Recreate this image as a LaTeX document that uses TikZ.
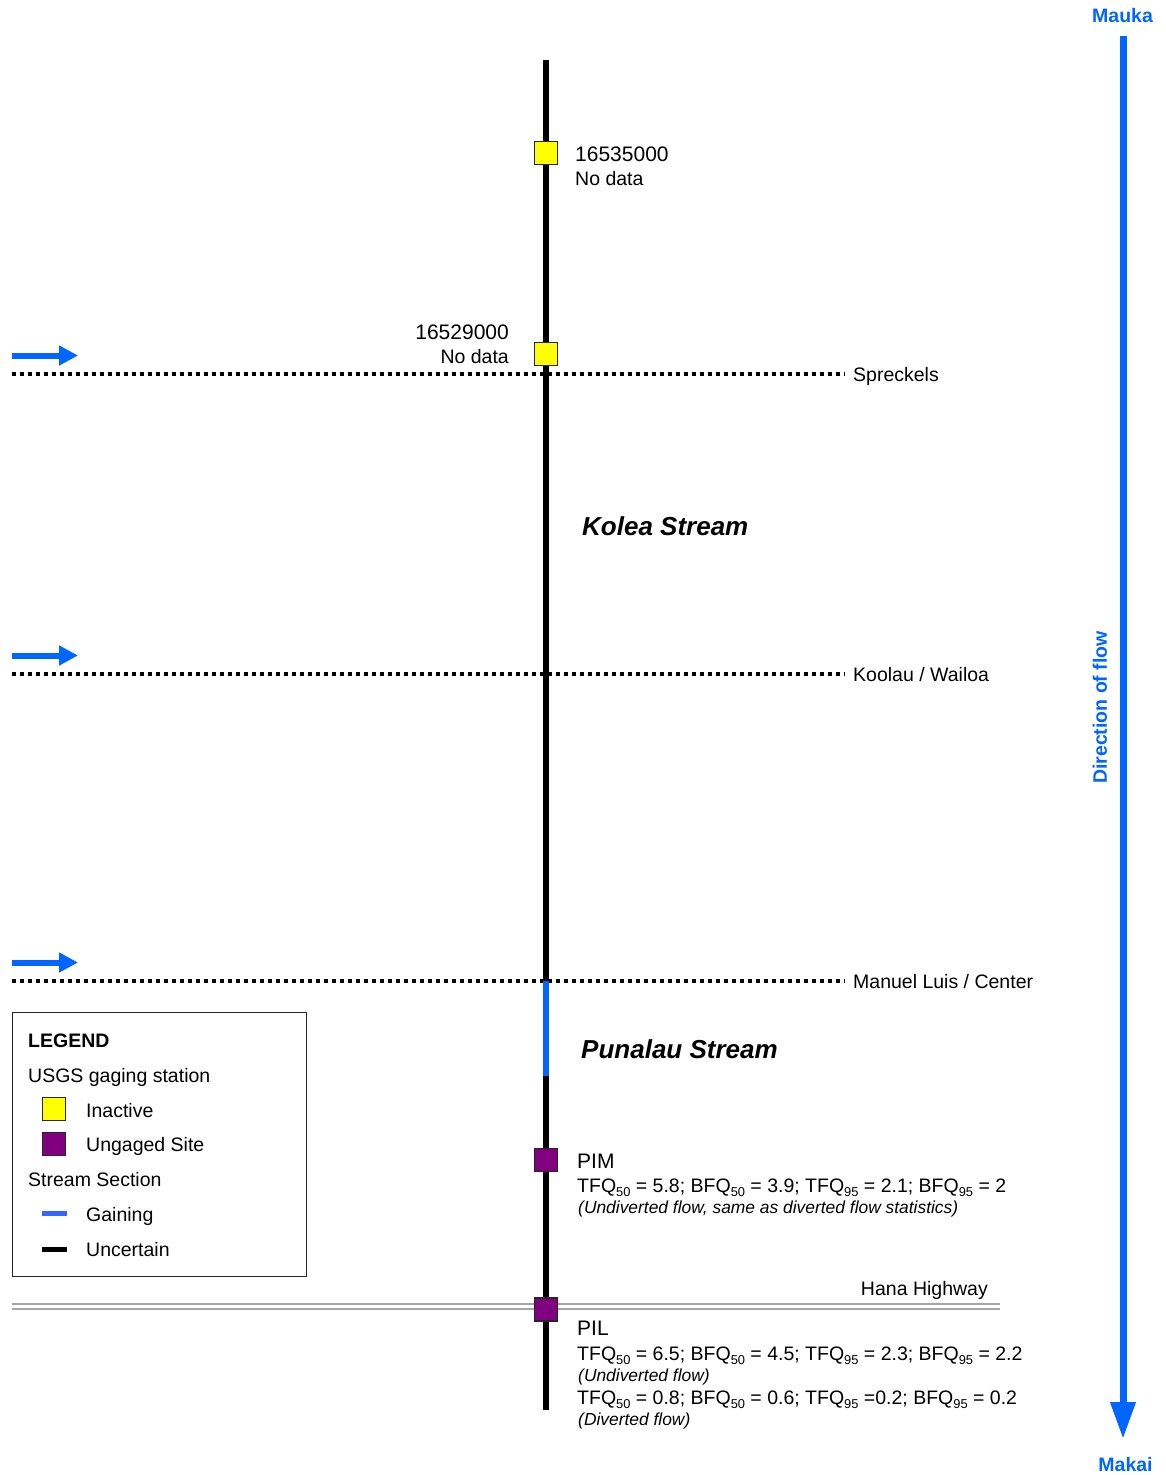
\documentclass[tikz,border=0pt]{standalone}
\usepackage{fontspec}
\usepackage{graphicx}
\setmainfont{Liberation Sans}
\usetikzlibrary{arrows.meta}
\definecolor{flowblue}{RGB}{0,102,255}
\definecolor{gainblue}{RGB}{51,102,255}
\definecolor{inactivecol}{RGB}{255,255,0}
\definecolor{ungagedcol}{RGB}{128,0,128}
\definecolor{hwgray}{RGB}{165,165,165}
\newcommand\lowsub[1]{\raisebox{-0.22em}{\scalebox{0.66}{#1}}}
\begin{document}
\begin{tikzpicture}[x=1pt,y=-1pt,
  lbl/.style={inner sep=0pt, anchor=base west, font=\fontsize{19.5}{23}\selectfont},
  lblr/.style={lbl, anchor=base east},
  idlbl/.style={inner sep=0pt, anchor=base west, font=\fontsize{21}{25}\selectfont},
  idlblr/.style={idlbl, anchor=base east},
  notelbl/.style={inner sep=0pt, anchor=base west, font=\fontsize{17.4}{20}\selectfont\itshape},
  streamname/.style={inner sep=0pt, anchor=base west, font=\fontsize{26}{30}\selectfont\bfseries\itshape},
  dirlbl/.style={inner sep=0pt, text=flowblue, font=\fontsize{19.5}{23}\selectfont\bfseries},
  stationbox/.style={draw=black!85, line width=1.2pt, minimum size=23pt, inner sep=0pt},
  inactive/.style={stationbox, fill=inactivecol},
  ungaged/.style={stationbox, fill=ungagedcol},
  stream/.style={line width=5.5pt, black},
  gainseg/.style={line width=5.5pt, flowblue},
  ditch/.style={line width=4pt, dash pattern=on 4pt off 4pt},
  inflow/.style={line width=6pt, flowblue, -{Triangle[length=19pt,width=19pt]}},
  dirarrow/.style={line width=7pt, flowblue, -{Triangle[length=37pt,width=24pt]}}
]
\useasboundingbox (0,0) rectangle (1165,1475);

% highway
\coordinate (hwL) at (12,1306.5);
\coordinate (hwR) at (1000,1306.5);
\draw[hwgray, line width=7pt] (hwL) -- (hwR);
\draw[white, line width=3pt] (hwL) -- (hwR);
\node[lblr] (hw) at (988,1295) {Hana Highway};

% ditches
\coordinate (d1L) at (12,374);  \coordinate (d1R) at (845,374);
\coordinate (d2L) at (12,674);  \coordinate (d2R) at (845,674);
\coordinate (d3L) at (12,981);  \coordinate (d3R) at (845,981);
\draw[ditch] (d1L) -- (d1R);
\draw[ditch] (d2L) -- (d2R);
\draw[ditch] (d3L) -- (d3R);
\node[lbl] (spr) at (853,381) {Spreckels};
\node[lbl] (kw) at (853,681) {Koolau / Wailoa};
\node[lbl] (mlc) at (853,988) {Manuel Luis / Center};

% inflow arrows
\coordinate (a1s) at (12,355.5); \coordinate (a1e) at (78,355.5);
\coordinate (a2s) at (12,655.5); \coordinate (a2e) at (78,655.5);
\coordinate (a3s) at (12,962.5); \coordinate (a3e) at (78,962.5);
\draw[inflow] (a1s) -- (a1e);
\draw[inflow] (a2s) -- (a2e);
\draw[inflow] (a3s) -- (a3e);

% stream
\coordinate (stop) at (546,60);
\coordinate (sbot) at (546,1410);
\coordinate (g1) at (546,981);
\coordinate (g2) at (546,1076);
\draw[stream] (stop) -- (sbot);
\draw[gainseg] (g1) -- (g2);

% stations
\node[inactive] (st1) at (546,153) {};
\node[inactive] (st2) at (546,354) {};
\node[ungaged] (pim) at (546,1160) {};
\node[ungaged] (pil) at (546,1309.5) {};

\node[idlbl] (st1id) at (575,161) {16535000};
\node[lbl] (st1nd) at (575,185) {No data};
\node[idlblr] (st2id) at (509,339) {16529000};
\node[lblr] (st2nd) at (509,363) {No data};

\node[streamname] (kolea) at (582,535) {Kolea Stream};
\node[streamname] (punalau) at (581,1058) {Punalau Stream};

\node[idlbl] (pimname) at (577,1168) {PIM};
\node[lbl] (pimstat) at (577,1192) {TFQ\lowsub{50} = 5.8; BFQ\lowsub{50} = 3.9; TFQ\lowsub{95} = 2.1; BFQ\lowsub{95} = 2};
\node[notelbl] (pimnote) at (578,1213) {(Undiverted flow, same as diverted flow statistics)};

\node[idlbl] (pilname) at (577,1335) {PIL};
\node[lbl] (pilstat) at (577,1360) {TFQ\lowsub{50} = 6.5; BFQ\lowsub{50} = 4.5; TFQ\lowsub{95} = 2.3; BFQ\lowsub{95} = 2.2};
\node[notelbl] (pilnote) at (578,1381) {(Undiverted flow)};
\node[lbl] (pilstat2) at (577,1404) {TFQ\lowsub{50} = 0.8; BFQ\lowsub{50} = 0.6; TFQ\lowsub{95} =0.2; BFQ\lowsub{95} = 0.2};
\node[notelbl] (pilnote2) at (578,1425) {(Diverted flow)};

% legend
\node[draw=black!85, line width=1pt, anchor=north west, minimum width=294pt, minimum height=264pt, inner sep=0pt] (legend) at (12,1012) {};
\node[lbl, font=\fontsize{19.5}{23}\selectfont\bfseries] (lgtitle) at (28,1047) {LEGEND};
\node[lbl] (lgusgs) at (28,1082) {USGS gaging station};
\node[inactive] (lginbox) at (54,1109) {};
\node[lbl] (lgin) at (86,1117) {Inactive};
\node[ungaged] (lgunbox) at (54,1144) {};
\node[lbl] (lgun) at (86,1151) {Ungaged Site};
\node[lbl] (lgss) at (28,1186) {Stream Section};
\coordinate (lgg1) at (42,1213.5); \coordinate (lgg2) at (67,1213.5);
\draw[line width=5pt, gainblue] (lgg1) -- (lgg2);
\node[lbl] (lgg) at (86,1221) {Gaining};
\coordinate (lgu1) at (42,1249.5); \coordinate (lgu2) at (67,1249.5);
\draw[line width=5pt, black] (lgu1) -- (lgu2);
\node[lbl] (lgu) at (86,1256) {Uncertain};

% direction of flow
\node[dirlbl] (mauka) at (1122.5,16) {Mauka};
\node[dirlbl] (makai) at (1125.5,1465) {Makai};
\coordinate (dtop) at (1123,36);
\coordinate (dbot) at (1123,1439);
\draw[dirarrow] (dtop) -- (dbot);
\node[dirlbl, rotate=90] (dirtext) at (1100,707.5) {Direction of flow};
\end{tikzpicture}
\end{document}
